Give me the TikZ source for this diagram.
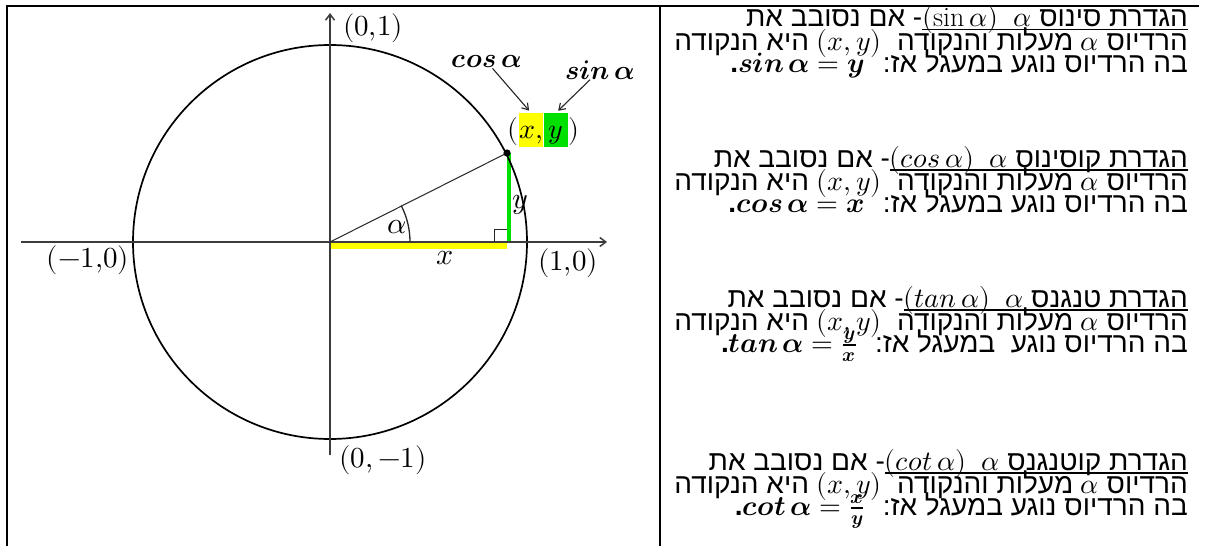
\documentclass[tikz,border=0pt]{standalone}
\usepackage{fontspec}
\usepackage{unicode-math}
\setmathfont{Latin Modern Math}
\newfontfamily\heb[Script=Hebrew]{Liberation Sans}
\TeXXeTstate=1
\usetikzlibrary{arrows.meta}
\definecolor{hyel}{RGB}{255,255,0}
\definecolor{hgrn}{RGB}{0,224,0}
\definecolor{axgray}{RGB}{60,60,60}
\newcommand\hul[1]{\setbox0=\hbox{#1}\hbox{\rlap{\rule[-3.5pt]{\wd0}{1.1pt}}\box0}}
\tikzset{
  tbl/.style={line width=2.2pt, black},
  circ/.style={line width=1.7pt, black},
  axis/.style={line width=1.5pt, axgray, -{Straight Barb[length=6pt,width=9pt]}},
  thinln/.style={line width=1pt, black!85},
  larr/.style={line width=1.1pt, black!85, -{Straight Barb[length=6pt,width=8pt]}, shorten >=3pt},
  lbl/.style={inner sep=0pt, font=\fontsize{29}{31}\selectfont},
  clbl/.style={inner sep=0pt, font=\fontsize{27}{30}\selectfont},
  vlbl/.style={inner sep=0pt, font=\fontsize{30}{32}\selectfont},
  hbox/.style={inner sep=0pt, text height=25pt, text depth=9pt, minimum width=24pt, anchor=base, font=\fontsize{28}{30}\selectfont},
  htxt/.style={anchor=base east, inner sep=0pt, font=\heb\fontsize{28}{30}\selectfont}
}
\begin{document}
\begin{tikzpicture}[x=1pt,y=-1pt]
\useasboundingbox (0,0) rectangle (1205,546);
\fill[white] (0,0) rectangle (1205,546);
% table
\coordinate (tl) at (7,6);
\coordinate (tr) at (1199,6);
\coordinate (bl) at (7,546);
\coordinate (mt) at (660,6);
\coordinate (mb) at (660,546);
\draw[tbl] (tr) -- (tl) -- (bl);
\draw[tbl] (mt) -- (mb);
% unit circle
\coordinate (O) at (330,242);
\coordinate (P) at (507,153);
\coordinate (F) at (507,242);
\coordinate (xa) at (21,242);
\coordinate (xb) at (607,242);
\coordinate (ya) at (330,455);
\coordinate (yb) at (330,13);
\draw[line width=6pt, hyel] ([yshift=-4pt]O) -- ([yshift=-4pt]F);
\draw[line width=4.5pt, hgrn] ([xshift=2pt]P) -- ([xshift=2pt]F);
\draw[circ] (O) circle[radius=197pt];
\draw[axis] (xa) -- (xb);
\draw[axis] (ya) -- (yb);
\draw[thinln] (O) -- (P);
\draw[thinln] (F) ++(-13,0) -- ++(0,-13) -- ++(13,0);
\draw[thinln, line width=1.3pt] (O) ++(80,0) arc[start angle=0, end angle=27, radius=80pt];
\fill[black] (P) circle[radius=3.6pt];
% axis labels
\node[lbl] (l01) at (373,28) {$(0{,}1)$};
\node[lbl] (l10) at (568,263) {$(1{,}0)$};
\node[lbl] (lm10) at (88,260) {$(-1{,}0)$};
\node[lbl] (l0m1) at (383,460) {$(0,-1)$};
\node[vlbl] (la) at (397,227) {$\alpha$};
\node[vlbl] (lx) at (445,258) {$x$};
\node[vlbl] (ly) at (520,205) {$y$};
% (x,y) with highlights
\node[hbox, fill=hyel] (hx) at (531,138) {$x,$};
\node[hbox, fill=hgrn] (hy) at (556,138) {$y$};
\node[inner sep=0pt, anchor=base east, font=\fontsize{28}{30}\selectfont] (lp) at (hx.base west) {$($};
\node[inner sep=0pt, anchor=base west, font=\fontsize{28}{30}\selectfont] (rp) at (hy.base east) {$)$};
\node[clbl] (cosl) at (487,62) {$\symbfit{cos\,\alpha}$};
\node[clbl] (sinl) at (600,70) {$\symbfit{sin\,\alpha}$};
\draw[larr] (cosl) -- (hx.north);
\draw[larr] (sinl) -- (hy.north);
% right column text
\node[htxt] (a1) at (1188,27) {\beginR\hul{\beginR הגדרת סינוס \beginL$\alpha$\endL\ \ \beginL$(\sin\alpha)$\endL\endR}- אם נסובב את\endR};
\node[htxt] (a2) at (1188,50) {\beginR הרדיוס \beginL$\alpha$\endL{} מעלות והנקודה \ \beginL$(x,y)$\endL{} היא הנקודה\endR};
\node[htxt] (a3) at (1188,72) {\beginR בה הרדיוס נוגע במעגל אז: \ \beginL$\symbfit{sin\,\alpha}=\symbfit{y}$\endL\textbf{.}\endR};
\node[htxt] (b1) at (1188,167) {\beginR\hul{\beginR הגדרת קוסינוס \beginL$\alpha$\endL\ \ \beginL$(cos\,\alpha)$\endL\endR}- אם נסובב את\endR};
\node[htxt] (b2) at (1188,190) {\beginR הרדיוס \beginL$\alpha$\endL{} מעלות והנקודה \ \beginL$(x,y)$\endL{} היא הנקודה\endR};
\node[htxt] (b3) at (1188,212) {\beginR בה הרדיוס נוגע במעגל אז: \ \beginL$\symbfit{cos\,\alpha}=\symbfit{x}$\endL\textbf{.}\endR};
\node[htxt] (c1) at (1188,307) {\beginR\hul{\beginR הגדרת טנגנס \beginL$\alpha$\endL\ \ \beginL$(tan\,\alpha)$\endL\endR}- אם נסובב את\endR};
\node[htxt] (c2) at (1188,330) {\beginR הרדיוס \beginL$\alpha$\endL{} מעלות והנקודה \ \beginL$(x,y)$\endL{} היא הנקודה\endR};
\node[htxt] (c3) at (1188,352) {\beginR בה הרדיוס נוגע \ במעגל אז: \ \beginL$\symbfit{tan\,\alpha}=\frac{\symbfit{y}}{\symbfit{x}}$\endL\textbf{.}\endR};
\node[htxt] (d1) at (1188,470) {\beginR\hul{\beginR הגדרת קוטנגנס \beginL$\alpha$\endL\ \ \beginL$(cot\,\alpha)$\endL\endR}- אם נסובב את\endR};
\node[htxt] (d2) at (1188,493) {\beginR הרדיוס \beginL$\alpha$\endL{} מעלות והנקודה \ \beginL$(x,y)$\endL{} היא הנקודה\endR};
\node[htxt] (d3) at (1188,515) {\beginR בה הרדיוס נוגע במעגל אז: \ \beginL$\symbfit{cot\,\alpha}=\frac{\symbfit{x}}{\symbfit{y}}$\endL\textbf{.}\endR};
\end{tikzpicture}
\end{document}
